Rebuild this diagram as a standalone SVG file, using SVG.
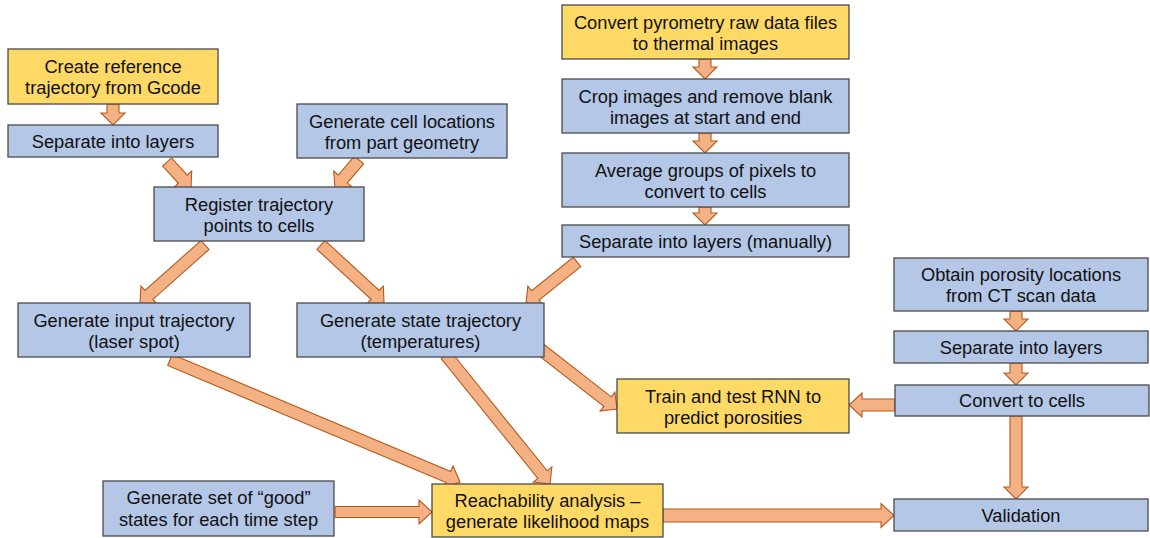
<svg xmlns="http://www.w3.org/2000/svg" width="1150" height="538" viewBox="0 0 1150 538">
<style>
.y{fill:#FFD966;stroke:#4a4a4a;stroke-width:1.3}
.b{fill:#B4C7E7;stroke:#4a4a4a;stroke-width:1.3}
text{font-family:"Liberation Sans",Arial,sans-serif;font-size:18.3px;fill:#111;text-anchor:middle}
.arr{fill:#F4B183;stroke:#B55A1E;stroke-width:1.1;stroke-linejoin:miter}
</style>
<rect width="1150" height="538" fill="#fff"/>
<g id="connectors">
<path class="arr" transform="translate(113,104) rotate(90)" d="M0,-6 H9 V-12 L21,0 L9,12 V6 H0 Z"/>
<path class="arr" transform="translate(167,162) rotate(47.3)" d="M0,-6 H23.4 V-12 L35.4,0 L23.4,12 V6 H0 Z"/>
<path class="arr" transform="translate(359,160) rotate(130.6)" d="M0,-6 H24.9 V-12 L36.9,0 L24.9,12 V6 H0 Z"/>
<path class="arr" transform="translate(205,245) rotate(138.3)" d="M0,-6 H75.1 V-12 L87.1,0 L75.1,12 V6 H0 Z"/>
<path class="arr" transform="translate(321,245) rotate(42.6)" d="M0,-6 H73.6 V-12 L85.6,0 L73.6,12 V6 H0 Z"/>
<path class="arr" transform="translate(577,262) rotate(141.2)" d="M0,-6 H53.4 V-12 L65.4,0 L53.4,12 V6 H0 Z"/>
<path class="arr" transform="translate(705,59) rotate(90)" d="M0,-6 H8 V-12 L20,0 L8,12 V6 H0 Z"/>
<path class="arr" transform="translate(705,133) rotate(90)" d="M0,-6 H8 V-12 L20,0 L8,12 V6 H0 Z"/>
<path class="arr" transform="translate(705,207) rotate(90)" d="M0,-6 H6 V-12 L18,0 L6,12 V6 H0 Z"/>
<path class="arr" transform="translate(1016,311) rotate(90)" d="M0,-6 H8 V-12 L20,0 L8,12 V6 H0 Z"/>
<path class="arr" transform="translate(1016,363) rotate(90)" d="M0,-6 H10 V-12 L22,0 L10,12 V6 H0 Z"/>
<path class="arr" transform="translate(1016,416) rotate(90)" d="M0,-6 H71 V-12 L83,0 L71,12 V6 H0 Z"/>
<path class="arr" transform="translate(895,405) rotate(180)" d="M0,-6 H33 V-12 L46,0 L33,12 V6 H0 Z"/>
<path class="arr" transform="translate(540,349) rotate(37.9)" d="M0,-6 H85.6 V-12 L97.6,0 L85.6,12 V6 H0 Z"/>
<path class="arr" transform="translate(170,360) rotate(22.8)" d="M0,-6 H302 V-12 L314.6,0 L302,12 V6 H0 Z"/>
<path class="arr" transform="translate(446,355) rotate(51.1)" d="M0,-6 H153.7 V-12 L165.7,0 L153.7,12 V6 H0 Z"/>
<path class="arr" transform="translate(335,512)" d="M0,-5.5 H84 V-12 L97,0 L84,12 V5.5 H0 Z"/>
<path class="arr" transform="translate(663,515.5)" d="M0,-6.5 H218 V-12 L231,0 L218,12 V6.5 H0 Z"/>
</g>
<g id="n1"><rect class="y" x="8" y="49" width="210" height="55"/><text x="113" y="73">Create reference</text><text x="113" y="94">trajectory from Gcode</text></g>
<g id="n2"><rect class="b" x="8" y="125" width="210" height="32"/><text x="113" y="147.5">Separate into layers</text></g>
<g id="n3"><rect class="b" x="297" y="104" width="210" height="54"/><text x="402" y="127.5">Generate cell locations</text><text x="402" y="148.5">from part geometry</text></g>
<g id="n4"><rect class="b" x="154" y="187" width="210" height="54"/><text x="259" y="210.5">Register trajectory</text><text x="259" y="231.5">points to cells</text></g>
<g id="n5"><rect class="y" x="562" y="5" width="287" height="54"/><text x="705.5" y="28.5">Convert pyrometry raw data files</text><text x="705.5" y="49.5">to thermal images</text></g>
<g id="n6"><rect class="b" x="562" y="79" width="287" height="54"/><text x="705.5" y="102.5">Crop images and remove blank</text><text x="705.5" y="123.5">images at start and end</text></g>
<g id="n7"><rect class="b" x="562" y="153" width="287" height="54"/><text x="705.5" y="176.5">Average groups of pixels to</text><text x="705.5" y="197.5">convert to cells</text></g>
<g id="n8"><rect class="b" x="562" y="225" width="287" height="32"/><text x="705.5" y="247.5">Separate into layers (manually)</text></g>
<g id="n9"><rect class="b" x="18" y="303" width="232" height="54"/><text x="134" y="326.5">Generate input trajectory</text><text x="134" y="347.5">(laser spot)</text></g>
<g id="n10"><rect class="b" x="297" y="303" width="247" height="54"/><text x="420.5" y="326.5">Generate state trajectory</text><text x="420.5" y="347.5">(temperatures)</text></g>
<g id="n11"><rect class="b" x="894" y="258" width="254" height="53"/><text x="1021" y="281">Obtain porosity locations</text><text x="1021" y="302">from CT scan data</text></g>
<g id="n12"><rect class="b" x="894" y="331" width="254" height="32"/><text x="1021" y="353.5">Separate into layers</text></g>
<g id="n13"><rect class="b" x="895" y="385" width="254" height="31"/><text x="1022" y="407">Convert to cells</text></g>
<g id="n14"><rect class="y" x="617" y="379" width="232" height="54"/><text x="733" y="402.5">Train and test RNN to</text><text x="733" y="423.5">predict porosities</text></g>
<g id="n15"><rect class="b" x="103" y="481" width="231" height="55"/><text x="218.5" y="504">Generate set of “good”</text><text x="218.5" y="525.5">states for each time step</text></g>
<g id="n16"><rect class="y" x="432" y="484" width="231" height="53"/><text x="547.5" y="507">Reachability analysis –</text><text x="547.5" y="528">generate likelihood maps</text></g>
<g id="n17"><rect class="b" x="894" y="499" width="254" height="32"/><text x="1021" y="521.5">Validation</text></g>
</svg>
